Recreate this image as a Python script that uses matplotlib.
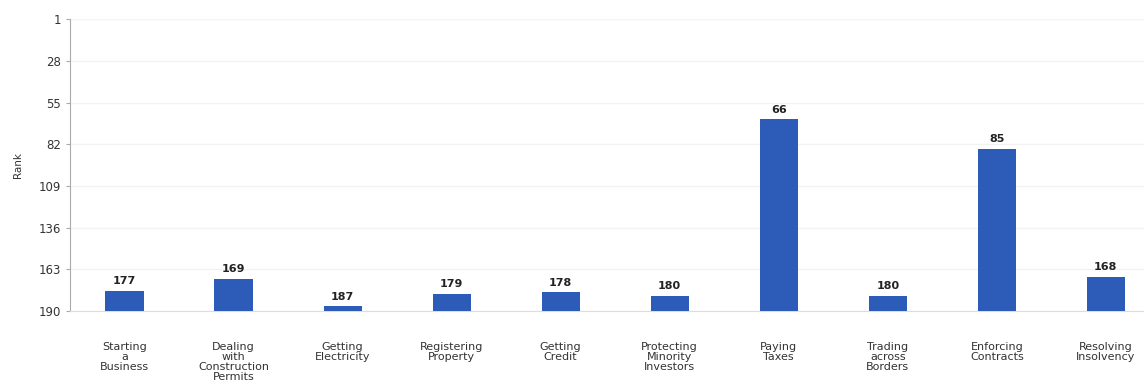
import numpy as np
import matplotlib.pyplot as plt

categories = ["Starting\na\nBusiness", "Dealing\nwith\nConstruction\nPermits",
              "Getting\nElectricity", "Registering\nProperty", "Getting\nCredit",
              "Protecting\nMinority\nInvestors", "Paying\nTaxes", "Trading\nacross\nBorders",
              "Enforcing\nContracts", "Resolving\nInsolvency"]
ranks = [177, 169, 187, 179, 178, 180, 66, 180, 85, 168]
yticks = [1, 28, 55, 82, 109, 136, 163, 190]
worst = 190

fig = plt.figure(figsize=(11.44, 3.9), dpi=100)
ax = fig.add_axes([0.0612, 0.2026, 0.9388, 0.7484])

x = np.arange(len(ranks))
heights = [r - worst for r in ranks]
ax.bar(x, heights, bottom=worst, width=0.35, color="#2c5cb8", zorder=3)
for xi, r in zip(x, ranks):
    ax.text(xi, r - 3, str(r), ha="center", va="bottom", fontsize=8,
            color="#222222", fontweight="bold", zorder=4)

ax.set_ylim(worst, 1)
ax.set_xlim(-0.5, 9.35)
ax.set_yticks(yticks)
ax.set_xticks(x)
ax.set_xticklabels(categories, fontsize=8, color="#333333", linespacing=1.02)
ax.tick_params(axis="x", length=0, pad=22)
ax.tick_params(axis="y", labelsize=8.5, colors="#333333", length=3, color="#aaaaaa")
ax.set_ylabel("Rank", fontsize=7.5, color="#333333", labelpad=11)

ax.grid(axis="y", color="#f3f3f3", linewidth=1, zorder=0)
for s in ["top", "right"]:
    ax.spines[s].set_visible(False)
ax.spines["left"].set_color("#aaaaaa")
ax.spines["bottom"].set_color("#dddddd")

fig.savefig("out.png", dpi=100)
